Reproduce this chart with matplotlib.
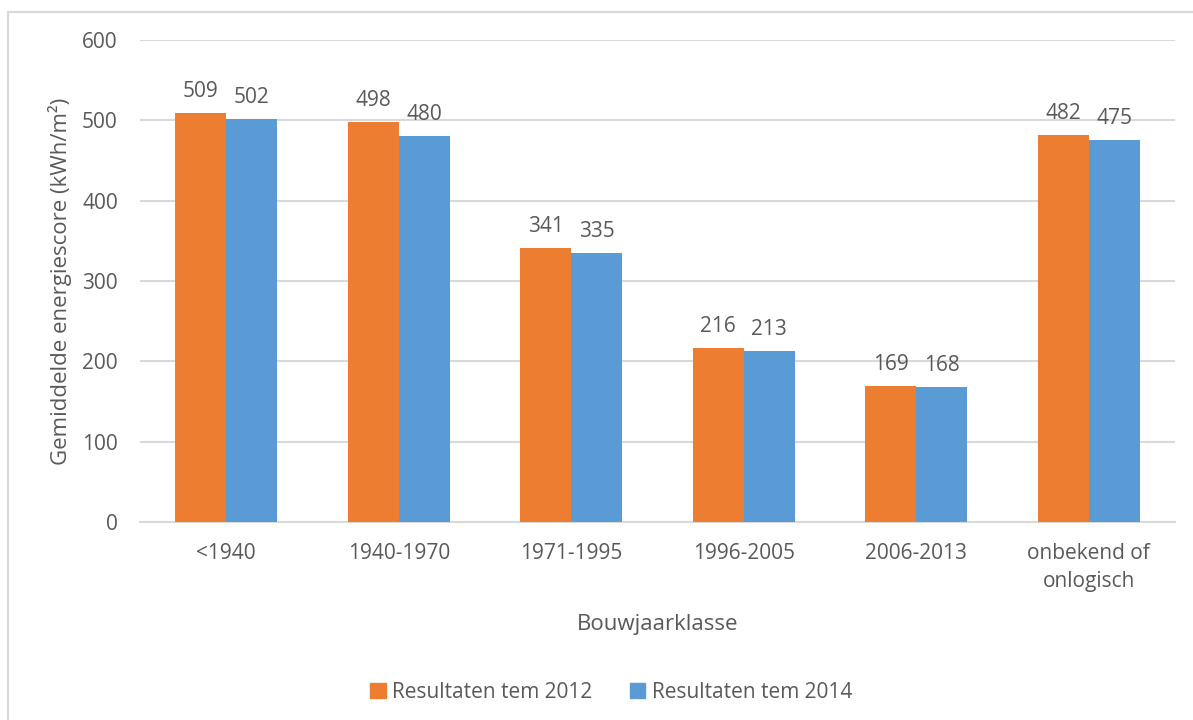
import numpy as np
import matplotlib
matplotlib.use("Agg")
from matplotlib import pyplot as plt
from matplotlib.patches import Rectangle, Patch

categories = ["<1940", "1940-1970", "1971-1995", "1996-2005", "2006-2013", "onbekend of\nonlogisch"]
res_2012 = [509, 498, 341, 216, 169, 482]
res_2014 = [502, 480, 335, 213, 168, 475]
series_names = ["Resultaten tem 2012", "Resultaten tem 2014"]

orange = "#ED7D31"
blue = "#5B9BD5"
txt = "#595959"

plt.rcParams['font.family'] = ['Open Sans', 'DejaVu Sans']

fig = plt.figure(figsize=(11.93, 7.2), dpi=100)
# light frame round the chart
fig.patches.append(Rectangle((8/1193, -0.1), 1.2, 0.1 + (720-12)/720, transform=fig.transFigure,
                             fill=False, edgecolor="#d9d9d9", linewidth=1.5))

ax = fig.add_axes([140/1193, 198/720, 1035/1193, 482/720])
x = np.arange(len(categories))
w = 0.296
b1 = ax.bar(x - w/2, res_2012, w, color=orange, zorder=3)
b2 = ax.bar(x + w/2, res_2014, w, color=blue, zorder=3)

for bars in (b1, b2):
    for r in bars:
        ax.annotate(str(int(r.get_height())), (r.get_x() + r.get_width()/2, r.get_height()),
                    xytext=(0, 8), textcoords="offset points", ha="center", va="bottom",
                    fontsize=15, color=txt)

ax.set_xlim(-0.5, len(categories) - 0.5)
ax.set_ylim(0, 600)
ax.set_yticks(range(0, 601, 100))
ax.yaxis.grid(True, color="#d9d9d9", linewidth=1.5, zorder=0)
ax.set_xticks(x)
ax.set_xticklabels(categories, fontsize=15, color=txt, linespacing=1.45)
ax.tick_params(axis="y", length=0, pad=16, labelsize=15, labelcolor=txt)
ax.tick_params(axis="x", length=0, pad=15)
for s in ["top", "right", "left"]:
    ax.spines[s].set_visible(False)
ax.spines["bottom"].set_color("#d9d9d9")
ax.spines["bottom"].set_linewidth(1.5)

ax.set_ylabel("Gemiddelde energiescore (kWh/m²)", fontsize=16, color=txt, labelpad=7)
ax.set_xlabel("Bouwjaarklasse", fontsize=16, color=txt, labelpad=16)

handles = [Patch(color=orange), Patch(color=blue)]
fig.legend(handles, series_names, loc="center", bbox_to_anchor=(611/1193, 28/720), ncol=2,
           frameon=False, fontsize=15, handlelength=0.75, handleheight=0.75, handletextpad=0.3,
           columnspacing=1.8, labelcolor=txt)

fig.savefig("out.png", dpi=100)
